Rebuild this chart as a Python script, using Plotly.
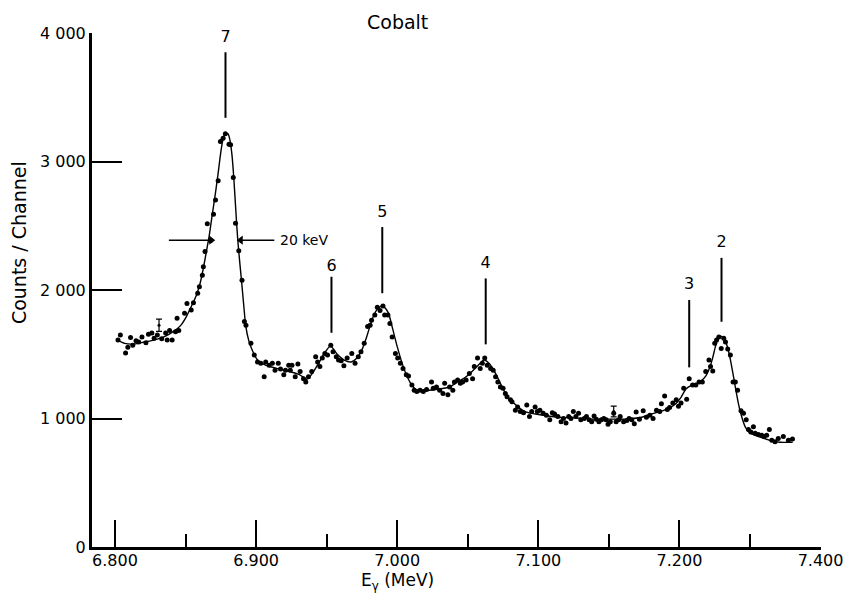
import plotly.graph_objects as go

# ---- measured counts (dots) ----
dot_energy = [
    6.8021, 6.8038, 6.8075, 6.8091, 6.8110, 6.8126, 6.8149, 6.8168, 6.8191, 6.8219,
    6.8237, 6.8261, 6.8277, 6.8300, 6.8331, 6.8359, 6.8370, 6.8387, 6.8405, 6.8429,
    6.8452, 6.8440, 6.8493, 6.8510, 6.8540, 6.8556, 6.8586, 6.8598, 6.8619, 6.8626,
    6.8638, 6.8654, 6.8677, 6.8698, 6.8712, 6.8731, 6.8747, 6.8766, 6.8782, 6.8808,
    6.8819, 6.8838, 6.8854, 6.8877, 6.8900, 6.8917, 6.8928, 6.8963, 6.8987, 6.9010,
    6.9033, 6.9057, 6.9068, 6.9092, 6.9115, 6.9134, 6.9157, 6.9173, 6.9196, 6.9208,
    6.9231, 6.9242, 6.9254, 6.9277, 6.9296, 6.9312, 6.9336, 6.9352, 6.9371, 6.9394,
    6.9422, 6.9436, 6.9452, 6.9469, 6.9487, 6.9506, 6.9529, 6.9545, 6.9568, 6.9584,
    6.9603, 6.9622, 6.9645, 6.9678, 6.9701, 6.9724, 6.9743, 6.9766, 6.9790, 6.9808,
    6.9818, 6.9841, 6.9859, 6.9878, 6.9899, 6.9911, 6.9934, 6.9948, 6.9964, 6.9987,
    7.0003, 7.0022, 7.0041, 7.0064, 7.0080, 7.0104, 7.0120, 7.0139, 7.0162, 7.0185,
    7.0208, 7.0243, 7.0255, 7.0278, 7.0301, 7.0324, 7.0336, 7.0359, 7.0371, 7.0394,
    7.0405, 7.0428, 7.0447, 7.0463, 7.0488, 7.0511, 7.0534, 7.0546, 7.0569, 7.0588,
    7.0603, 7.0620, 7.0638, 7.0662, 7.0680, 7.0697, 7.0713, 7.0731, 7.0750, 7.0766,
    7.0778, 7.0802, 7.0813, 7.0837, 7.0853, 7.0872, 7.0895, 7.0918, 7.0937, 7.0953,
    7.0977, 7.0993, 7.1011, 7.1034, 7.1057, 7.1081, 7.1099, 7.1115, 7.1138, 7.1161,
    7.1178, 7.1196, 7.1215, 7.1231, 7.1248, 7.1266, 7.1285, 7.1301, 7.1325, 7.1341,
    7.1360, 7.1378, 7.1395, 7.1411, 7.1429, 7.1447, 7.1464, 7.1480, 7.1494, 7.1510,
    7.1534, 7.1551, 7.1569, 7.1580, 7.1604, 7.1627, 7.1643, 7.1662, 7.1680, 7.1693,
    7.1716, 7.1743, 7.1766, 7.1790, 7.1813, 7.1837, 7.1860, 7.1872, 7.1895, 7.1914,
    7.1930, 7.1953, 7.1977, 7.1993, 7.2011, 7.2030, 7.2051, 7.2069, 7.2093, 7.2116,
    7.2139, 7.2162, 7.2186, 7.2209, 7.2220, 7.2236, 7.2250, 7.2263, 7.2279, 7.2296,
    7.2314, 7.2326, 7.2342, 7.2361, 7.2380, 7.2396, 7.2412, 7.2436, 7.2454, 7.2473,
    7.2489, 7.2506, 7.2524, 7.2536, 7.2559, 7.2583, 7.2599, 7.2618, 7.2637, 7.2654,
    7.2677, 7.2700, 7.2736, 7.2772, 7.2801,
]
dot_counts = [
    1610, 1650, 1510, 1555, 1630, 1570, 1605, 1595, 1635, 1590,
    1655, 1665, 1625, 1650, 1620, 1665, 1610, 1685, 1610, 1675,
    1685, 1780, 1820, 1895, 1845, 1900, 1975, 2025, 2115, 2180,
    2300, 2515, 2385, 2590, 2700, 2850, 3155, 3180, 3215, 3135,
    3130, 2875, 2520, 2305, 2075, 1755, 1725, 1585, 1495, 1440,
    1430, 1325, 1440, 1415, 1430, 1375, 1430, 1385, 1340, 1375,
    1415, 1375, 1415, 1325, 1425, 1365, 1310, 1285, 1325, 1365,
    1480, 1440, 1405, 1470, 1505, 1495, 1570, 1520, 1480, 1455,
    1450, 1410, 1470, 1505, 1430, 1480, 1520, 1585, 1715, 1725,
    1765, 1805, 1865, 1840, 1875, 1805, 1805, 1740, 1635, 1505,
    1470, 1430, 1390, 1340, 1330, 1260, 1220, 1210, 1220, 1210,
    1225, 1285, 1235, 1245, 1220, 1195, 1275, 1185, 1245, 1220,
    1285, 1300, 1275, 1285, 1300, 1350, 1310, 1405, 1470, 1390,
    1430, 1470, 1415, 1390, 1375, 1325, 1285, 1245, 1235, 1195,
    1170, 1145, 1130, 1065, 1090, 1055, 1045, 1105, 1015, 1055,
    1090, 1055, 1065, 1040, 1025, 990, 1045, 1035, 1015, 975,
    1000, 965, 1015, 1000, 1055, 1015, 1040, 990, 1000, 1015,
    990, 975, 1020, 995, 975, 990, 1000, 990, 955, 975,
    1040, 975, 990, 1015, 975, 985, 1000, 990, 960, 1050,
    995, 1060, 1010, 1025, 1000, 1065, 1055, 1115, 1175, 1070,
    1085, 1120, 1145, 1095, 1120, 1235, 1150, 1310, 1260, 1260,
    1285, 1285, 1365, 1455, 1405, 1370, 1585, 1610, 1635, 1545,
    1625, 1595, 1540, 1495, 1285, 1285, 1220, 1060, 1040, 990,
    915, 895, 935, 885, 875, 870, 860, 870, 915, 830,
    820, 845, 860, 830, 840,
]

# ---- fitted smooth curve ----
fit_energy = [
    6.8019, 6.8068, 6.8138, 6.8207, 6.8277, 6.8347, 6.8417, 6.8466, 6.8507, 6.8542,
    6.8577, 6.8605, 6.8626, 6.8647, 6.8668, 6.8689, 6.8710, 6.8731, 6.8752, 6.8766,
    6.8783, 6.8801, 6.8815, 6.8829, 6.8842, 6.8856, 6.8870, 6.8884, 6.8898, 6.8912,
    6.8926, 6.8947, 6.8975, 6.9010, 6.9066, 6.9164, 6.9254, 6.9310, 6.9359, 6.9401,
    6.9443, 6.9485, 6.9527, 6.9575, 6.9624, 6.9673, 6.9715, 6.9750, 6.9785, 6.9820,
    6.9855, 6.9889, 6.9910, 6.9938, 6.9966, 7.0001, 7.0036, 7.0071, 7.0106, 7.0141,
    7.0232, 7.0301, 7.0371, 7.0427, 7.0476, 7.0525, 7.0574, 7.0615, 7.0650, 7.0685,
    7.0720, 7.0755, 7.0790, 7.0825, 7.0874, 7.0916, 7.0978, 7.1034, 7.1139, 7.1264,
    7.1383, 7.1502, 7.1613, 7.1732, 7.1802, 7.1893, 7.1963, 7.2011, 7.2046, 7.2081,
    7.2116, 7.2151, 7.2186, 7.2214, 7.2235, 7.2256, 7.2277, 7.2294, 7.2312, 7.2333,
    7.2354, 7.2375, 7.2396, 7.2417, 7.2438, 7.2466, 7.2501, 7.2571, 7.2641, 7.2711,
    7.2802,
]
fit_counts = [
    1610, 1585, 1580, 1595, 1610, 1635, 1680, 1725, 1795, 1875,
    1960, 2060, 2170, 2295, 2425, 2585, 2740, 2910, 3090, 3175,
    3220, 3215, 3165, 3050, 2870, 2620, 2390, 2215, 2055, 1885,
    1725, 1610, 1525, 1455, 1415, 1385, 1360, 1340, 1305, 1355,
    1430, 1510, 1565, 1500, 1455, 1440, 1470, 1535, 1640, 1765,
    1845, 1875, 1865, 1820, 1705, 1555, 1425, 1325, 1255, 1220,
    1220, 1230, 1245, 1285, 1315, 1360, 1415, 1455, 1430, 1375,
    1300, 1220, 1160, 1120, 1075, 1050, 1035, 1025, 1010, 1005,
    995, 995, 995, 1010, 1035, 1065, 1105, 1165, 1230, 1255,
    1270, 1290, 1330, 1395, 1470, 1565, 1625, 1640, 1625, 1580,
    1495, 1375, 1245, 1120, 1025, 935, 885, 855, 830, 815,
    815,
]

# ---- representative statistical error bars ----
err_energy = [6.8312, 7.1534]
err_counts = [1726, 1055]
err_sigma = [48, 42]

# ---- peak identifications ----
peak_names = ["7", "6", "5", "4", "3", "2"]
peak_energy = [6.8783, 6.9534, 6.9894, 7.0627, 7.2069, 7.2298]
peak_text_y = [3960, 2178, 2600, 2200, 2038, 2365]
peak_line_top = [3850, 2103, 2490, 2090, 1922, 2250]
peak_line_bottom = [3340, 1667, 1975, 1577, 1398, 1753]

# ---- resolution (FWHM) marker ----
fwhm_level = 2388
fwhm_left = 6.8682
fwhm_right = 6.8891
fwhm_left_tail = 6.8382
fwhm_right_tail = 6.9129
fwhm_text = "20 keV"

# ---- axes ----
x_tick_vals = [6.8, 6.9, 7.0, 7.1, 7.2, 7.3]
x_tick_text = ["6.800", "6.900", "7.000", "7.100", "7.200", "7.400"]
y_tick_vals = [0, 1000, 2000, 3000, 4000]
y_tick_text = ["0", "1 000", "2 000", "3 000", "4 000"]
x_range = [6.7837, 7.3003]
y_range = [0, 4000]
title_text = "Cobalt"
x_title = "E<sub>γ</sub> (MeV)"
y_title = "Counts / Channel"

FONT = "DejaVu Sans"
INK = "black"

# layout geometry (pixels)
W, H = 855, 596
ML, MR, MT, MB = 92, 23, 33, 49
PW, PH = W - ML - MR, H - MT - MB


def px_to_paper(px, py):
    return (px - ML) / PW, (H - MB - py) / PH


fig = go.Figure()

fig.add_trace(go.Scatter(
    x=fit_energy, y=fit_counts, mode="lines",
    line=dict(color=INK, width=1.4, shape="spline", smoothing=0.6),
    hoverinfo="skip", showlegend=False,
))
fig.add_trace(go.Scatter(
    x=dot_energy, y=dot_counts, mode="markers",
    marker=dict(color=INK, size=5),
    showlegend=False,
))
fig.add_trace(go.Scatter(
    x=err_energy, y=err_counts, mode="markers",
    marker=dict(color=INK, size=3),
    error_y=dict(type="data", array=err_sigma, color=INK, thickness=1.2, width=3),
    showlegend=False,
))

# peak marker lines
lx, ly = [], []
for e, t, b in zip(peak_energy, peak_line_top, peak_line_bottom):
    lx += [e, e, None]
    ly += [t, b, None]
fig.add_trace(go.Scatter(
    x=lx, y=ly, mode="lines", line=dict(color=INK, width=2),
    hoverinfo="skip", showlegend=False,
))
fig.add_trace(go.Scatter(
    x=peak_energy, y=peak_text_y, mode="text", text=peak_names,
    textfont=dict(family=FONT, size=16, color=INK), cliponaxis=False,
    hoverinfo="skip", showlegend=False,
))

# FWHM arrows: shafts + arrowheads
fig.add_trace(go.Scatter(
    x=[fwhm_left_tail, fwhm_left, None, fwhm_right_tail, fwhm_right],
    y=[fwhm_level, fwhm_level, None, fwhm_level, fwhm_level],
    mode="lines", line=dict(color=INK, width=1.5),
    hoverinfo="skip", showlegend=False,
))
fig.add_trace(go.Scatter(
    x=[fwhm_left, fwhm_right], y=[fwhm_level, fwhm_level],
    mode="markers",
    marker=dict(symbol=["triangle-right", "triangle-left"], size=8, color=INK),
    hoverinfo="skip", showlegend=False,
))
fig.add_annotation(
    x=fwhm_right_tail, y=fwhm_level, xref="x", yref="y",
    text=fwhm_text, showarrow=False, xanchor="left", yanchor="middle", xshift=4,
    font=dict(family=FONT, size=14, color=INK),
)

# title and axis titles placed where the reference has them
tx, ty = px_to_paper(402, 22)
fig.add_annotation(x=tx, y=ty, xref="paper", yref="paper", text=title_text,
                   xanchor="center", yanchor="middle",
                   showarrow=False, font=dict(family=FONT, size=19, color=INK))
xx, xy = px_to_paper(402, 581)
fig.add_annotation(x=xx, y=xy, xref="paper", yref="paper", text=x_title,
                   xanchor="center", yanchor="middle",
                   showarrow=False, font=dict(family=FONT, size=17, color=INK))
yx, yy = px_to_paper(18, 243)
fig.add_annotation(x=yx, y=yy, xref="paper", yref="paper", text=y_title,
                   textangle=-90, xanchor="center", yanchor="middle",
                   showarrow=False, font=dict(family=FONT, size=19, color=INK))

fig.update_layout(
    width=W, height=H,
    margin=dict(l=ML, r=MR, t=MT, b=MB),
    paper_bgcolor="white", plot_bgcolor="white",
    font=dict(family=FONT, color=INK),
    showlegend=False,
)

fig.update_xaxes(
    range=x_range, showgrid=False, zeroline=False,
    showline=True, linewidth=3, linecolor=INK,
    tickmode="array", tickvals=x_tick_vals, ticktext=x_tick_text,
    ticks="inside", ticklen=27, tickwidth=2, tickcolor=INK,
    tickfont=dict(family=FONT, size=16, color=INK), ticklabelstandoff=-3,
    minor=dict(ticks="inside", ticklen=13, tickwidth=2, tickcolor=INK,
               tick0=6.85, dtick=0.1, showgrid=False),
)
fig.update_yaxes(
    range=y_range, showgrid=False, zeroline=False,
    showline=True, linewidth=3, linecolor=INK,
    tickmode="array", tickvals=y_tick_vals, ticktext=y_tick_text,
    ticks="inside", ticklen=30, tickwidth=2, tickcolor=INK,
    tickfont=dict(family=FONT, size=16, color=INK),
)

fig.write_html("out.html")
